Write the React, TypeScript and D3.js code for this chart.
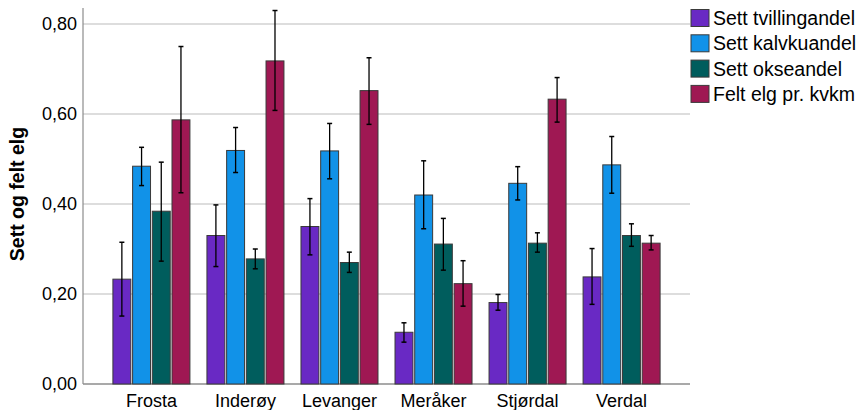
import React from "react";
import * as d3 from "d3";

const categories = ["Frosta", "Inderøy", "Levanger", "Meråker", "Stjørdal", "Verdal"];
const seriesNames = ["Sett tvillingandel", "Sett kalvkuandel", "Sett okseandel", "Felt elg pr. kvkm"];
const seriesColors = ["#6929c4", "#1192e8", "#005d5d", "#9f1853"];

const tvilling = [0.233, 0.330, 0.350, 0.115, 0.181, 0.238];
const tvillingLo = [0.151, 0.261, 0.287, 0.093, 0.164, 0.177];
const tvillingHi = [0.315, 0.398, 0.412, 0.136, 0.199, 0.301];

const kalvku = [0.484, 0.519, 0.518, 0.420, 0.446, 0.487];
const kalvkuLo = [0.441, 0.470, 0.456, 0.345, 0.409, 0.424];
const kalvkuHi = [0.526, 0.570, 0.579, 0.496, 0.483, 0.550];

const okse = [0.384, 0.278, 0.270, 0.311, 0.313, 0.330];
const okseLo = [0.273, 0.256, 0.248, 0.253, 0.293, 0.306];
const okseHi = [0.493, 0.300, 0.293, 0.368, 0.336, 0.356];

const felt = [0.587, 0.718, 0.652, 0.223, 0.633, 0.313];
const feltLo = [0.425, 0.608, 0.577, 0.173, 0.582, 0.298];
const feltHi = [0.750, 0.830, 0.725, 0.274, 0.681, 0.330];

const yTicks = [0, 0.2, 0.4, 0.6, 0.8];
const yTitle = "Sett og felt elg";

const values = [tvilling, kalvku, okse, felt];
const lows = [tvillingLo, kalvkuLo, okseLo, feltLo];
const highs = [tvillingHi, kalvkuHi, okseHi, feltHi];

const W = 859;
const H = 410;
const left = 83;
const right = 690;
const top = 8;
const bottom = 384;
const font = "'Liberation Sans', Arial, sans-serif";

export default function App() {
  const y = d3.scaleLinear().domain([0, 0.8356]).range([bottom, top]);
  const x0 = d3
    .scaleBand<string>()
    .domain(categories)
    .range([left, right])
    .paddingInner(0.181)
    .paddingOuter(0.318);
  const x1 = d3
    .scaleBand<string>()
    .domain(seriesNames)
    .range([0, x0.bandwidth()])
    .paddingInner(0.09);
  const fmt = (v: number) => d3.format(".2f")(v).replace(".", ",");
  const cap = 2.5;

  return (
    <svg
      width={W}
      height={H}
      style={{ position: "absolute", left: 0, top: 0, background: "#fff" }}
      fontFamily={font}
    >
      {yTicks.map((t) => (
        <g key={t}>
          {t > 0 && (
            <line x1={left} x2={right} y1={y(t)} y2={y(t)} stroke="#d2d2d2" strokeWidth={1.5} />
          )}
          <text x={77} y={y(t)} textAnchor="end" dominantBaseline="central" fontSize={18} fill="#000">
            {fmt(t)}
          </text>
        </g>
      ))}
      <line x1={left} x2={left} y1={top} y2={bottom} stroke="#8c8c8c" strokeWidth={1.2} />
      <line x1={left} x2={right} y1={bottom} y2={bottom} stroke="#8c8c8c" strokeWidth={1.5} />
      {categories.map((c, ci) => (
        <g key={c} transform={`translate(${x0(c)},0)`}>
          {seriesNames.map((s, si) => {
            const v = values[si][ci];
            const bx = x1(s)!;
            const bw = x1.bandwidth();
            const cx = bx + bw / 2;
            return (
              <g key={s}>
                <rect
                  x={bx}
                  y={y(v)}
                  width={bw}
                  height={y(0) - y(v)}
                  fill={seriesColors[si]}
                  stroke="#3a3a3a"
                  strokeWidth={1}
                />
                <line x1={cx} x2={cx} y1={y(highs[si][ci])} y2={y(lows[si][ci])} stroke="#000" strokeWidth={1.3} />
                <line x1={cx - cap} x2={cx + cap} y1={y(highs[si][ci])} y2={y(highs[si][ci])} stroke="#000" strokeWidth={1.5} />
                <line x1={cx - cap} x2={cx + cap} y1={y(lows[si][ci])} y2={y(lows[si][ci])} stroke="#000" strokeWidth={1.5} />
              </g>
            );
          })}
          <text x={x0.bandwidth() / 2} y={407} textAnchor="middle" fontSize={18} fill="#000">
            {c}
          </text>
        </g>
      ))}
      <text
        transform={`translate(17,194) rotate(-90)`}
        textAnchor="middle"
        dominantBaseline="central"
        fontSize={19.5}
        fontWeight="bold"
        fill="#000"
      >
        {yTitle}
      </text>
      {seriesNames.map((s, i) => {
        const cy = 18 + i * 25.3;
        return (
          <g key={s}>
            <rect x={691} y={cy - 8.5} width={18} height={17} fill={seriesColors[i]} stroke="#3a3a3a" strokeWidth={1} />
            <text x={713} y={cy} dominantBaseline="central" fontSize={19.5} fill="#000">
              {s}
            </text>
          </g>
        );
      })}
    </svg>
  );
}
